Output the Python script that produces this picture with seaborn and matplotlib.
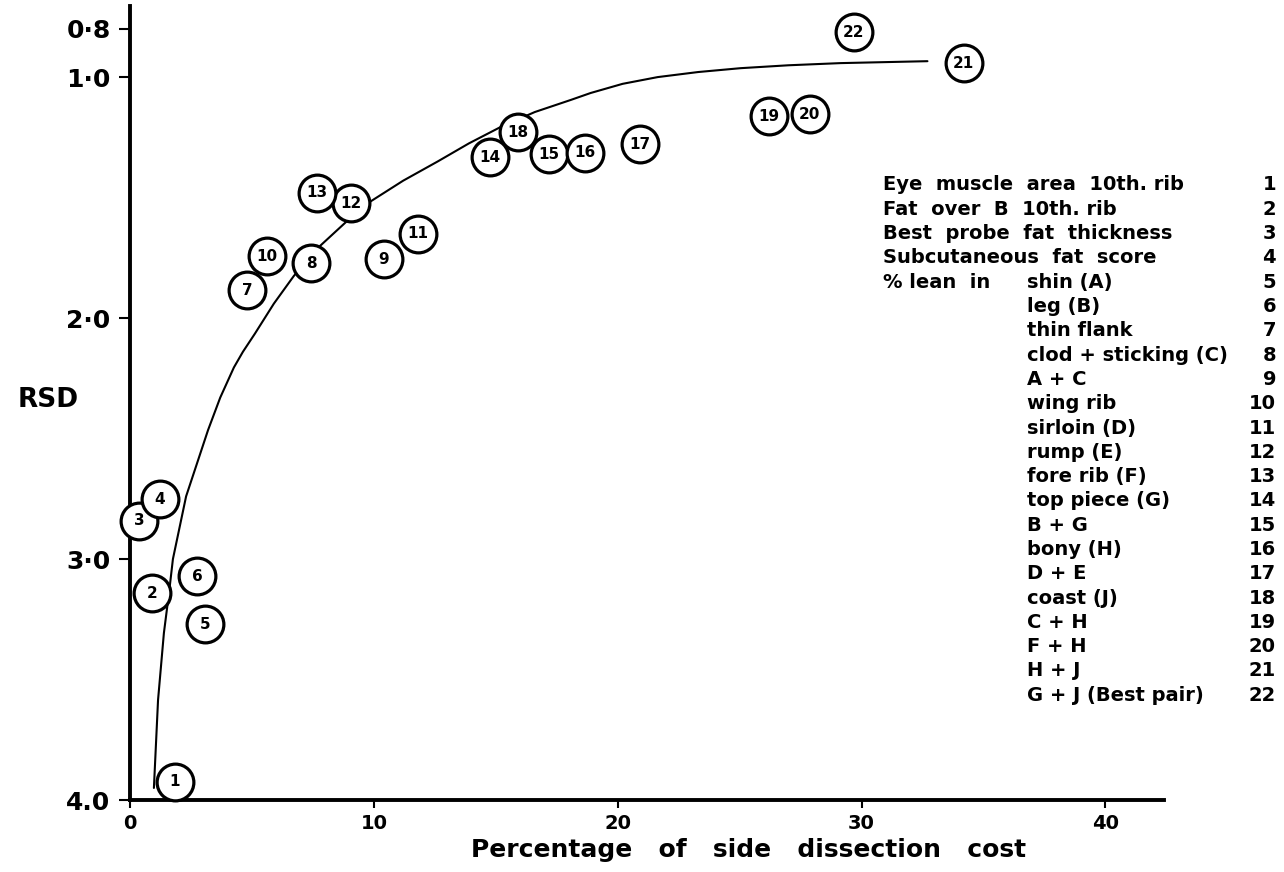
import matplotlib
matplotlib.use("Agg")
import matplotlib.pyplot as plt
import seaborn as sns
import pandas as pd

# ---------------- data ----------------
point_ids = list(range(1, 23))
cost_pct = [1.84, 0.90, 0.37, 1.23, 3.07, 2.75, 4.80, 7.42, 10.41, 5.61, 11.80,
            9.06, 7.66, 14.75, 17.17, 18.65, 20.90, 15.90, 26.19, 27.87, 34.18, 29.67]
rsd = [3.925, 3.141, 2.842, 2.751, 3.270, 3.071, 1.884, 1.772, 1.755, 1.743, 1.651,
       1.523, 1.481, 1.332, 1.320, 1.315, 1.278, 1.228, 1.162, 1.154, 0.942, 0.813]

curve_x = [0.98, 1.15, 1.39, 1.60, 1.76, 2.30, 3.20, 3.70, 4.26, 4.63, 5.12, 5.90,
           6.72, 7.80, 8.98, 9.88, 11.20, 12.62, 13.90, 15.20, 16.60, 18.07, 18.89,
           20.20, 21.64, 23.30, 25.04, 27.00, 29.14, 32.70]
curve_y = [3.95, 3.585, 3.307, 3.14, 3.00, 2.74, 2.465, 2.33, 2.205, 2.14, 2.065, 1.94,
           1.825, 1.70, 1.59, 1.515, 1.43, 1.35, 1.275, 1.207, 1.145, 1.095, 1.066,
           1.028, 1.0, 0.979, 0.963, 0.951, 0.942, 0.934]

y_ticks = [0.8, 1.0, 2.0, 3.0, 4.0]
y_tick_labels = ["0·8", "1·0", "2·0", "3·0", "4.0"]
x_ticks = [0, 10, 20, 30, 40]
x_tick_labels = ["0", "10", "20", "30", "40"]

key_main = ["Eye  muscle  area  10th. rib", "Fat  over  B  10th. rib",
            "Best  probe  fat  thickness", "Subcutaneous  fat  score", "% lean  in"]
key_sub = ["shin (A)", "leg (B)", "thin flank", "clod + sticking (C)", "A + C",
           "wing rib", "sirloin (D)", "rump (E)", "fore rib (F)", "top piece (G)",
           "B + G", "bony (H)", "D + E", "coast (J)", "C + H", "F + H", "H + J",
           "G + J (Best pair)"]

# ---------------- figure ----------------
sns.set_style("ticks")
plt.rcParams['font.family'] = ['DejaVu Sans']
plt.rcParams.update({"text.color": "black", "axes.labelcolor": "black",
                     "xtick.color": "black", "ytick.color": "black",
                     "axes.edgecolor": "black"})

W, H = 1284, 872
fig = plt.figure(figsize=(W / 100, H / 100), dpi=100)
ax = fig.add_axes([130 / W, 1 - 800 / H, (1164 - 130) / W, (800 - 6) / H])

pts = pd.DataFrame({"id": point_ids, "cost": cost_pct, "rsd": rsd})
crv = pd.DataFrame({"x": curve_x, "y": curve_y})

sns.lineplot(data=crv, x="x", y="y", sort=False, color="black", linewidth=1.5, ax=ax)
sns.scatterplot(data=pts, x="cost", y="rsd", marker="o", s=700, facecolor="white",
                edgecolor="black", linewidth=2.3, ax=ax, zorder=3, clip_on=False)
for i, cx, cy in zip(point_ids, cost_pct, rsd):
    ax.text(cx, cy, str(i), ha="center", va="center", fontsize=11,
            fontweight="bold", color="black", zorder=4)

ax.set_xlim(0, 42.4)
ax.set_ylim(4.0, 0.705)

for s in ["top", "right"]:
    ax.spines[s].set_visible(False)
for s in ["left", "bottom"]:
    ax.spines[s].set_linewidth(2.8)
    ax.spines[s].set_color("black")
    ax.spines[s].set_zorder(2)

ax.set_yticks(y_ticks)
ax.set_yticklabels(y_tick_labels, fontsize=18, fontweight="bold")
ax.set_xticks(x_ticks)
ax.set_xticklabels(x_tick_labels, fontsize=14, fontweight="bold")
ax.tick_params(axis="y", direction="out", length=8, width=1.5, pad=6, colors="black")
ax.tick_params(axis="x", direction="out", length=6, width=1.5, pad=4, colors="black")

ax.set_ylabel("RSD", rotation=0, fontsize=19, fontweight="bold", color="black")
ax.yaxis.set_label_coords(-0.079, 0.504)
ax.yaxis.label.set_va("center")
ax.yaxis.label.set_ha("center")
ax.set_xlabel("Percentage   of   side   dissection   cost", fontsize=18,
              fontweight="bold", color="black")
ax.xaxis.set_label_coords(0.598, -0.063)
ax.xaxis.label.set_va("center")

# key on the right
line_gap = 24.3
y0 = 185
for k in range(22):
    yy = 1 - (y0 + k * line_gap) / H
    if k < len(key_main):
        fig.text(883 / W, yy, key_main[k], fontsize=14, fontweight="bold",
                 ha="left", va="center", color="black")
    if k >= 4:
        fig.text(1027 / W, yy, key_sub[k - 4], fontsize=14, fontweight="bold",
                 ha="left", va="center", color="black")
    fig.text(1276 / W, yy, str(point_ids[k]), fontsize=14, fontweight="bold",
             ha="right", va="center", color="black")

fig.savefig("out.png", dpi=100)
